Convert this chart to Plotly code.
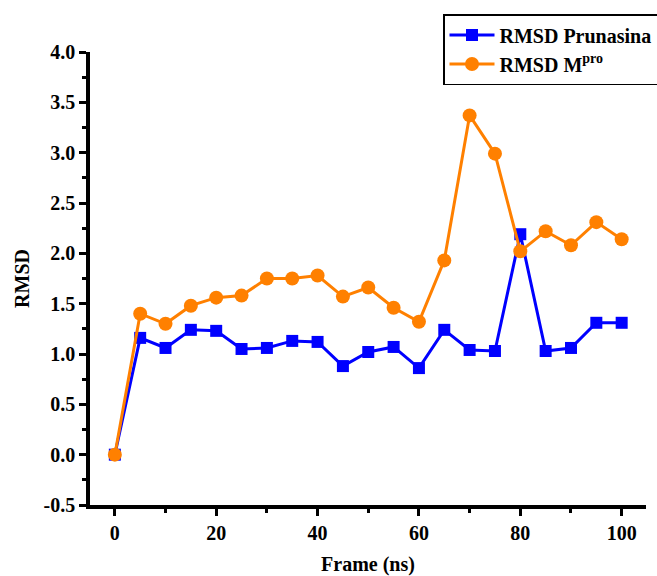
import plotly.graph_objects as go

frames = [0, 5, 10, 15, 20, 25, 30, 35, 40, 45, 50, 55, 60, 65, 70, 75, 80, 85, 90, 95, 100]
rmsd_prunasina = [0.0, 1.16, 1.06, 1.24, 1.23, 1.05, 1.06, 1.13, 1.12, 0.88, 1.02, 1.07, 0.86,
                  1.24, 1.04, 1.03, 2.19, 1.03, 1.06, 1.31, 1.31]
rmsd_mpro = [0.0, 1.40, 1.30, 1.48, 1.56, 1.58, 1.75, 1.75, 1.78, 1.57, 1.66, 1.46, 1.32,
             1.93, 3.37, 2.99, 2.02, 2.22, 2.08, 2.31, 2.14]
x_ticks = [0, 20, 40, 60, 80, 100]
x_minor = [10, 30, 50, 70, 90]
y_ticks = [-0.5, 0.0, 0.5, 1.0, 1.5, 2.0, 2.5, 3.0, 3.5, 4.0]
y_minor = [-0.25, 0.25, 0.75, 1.25, 1.75, 2.25, 2.75, 3.25, 3.75]

FONT = "Liberation Serif"

fig = go.Figure()
fig.add_trace(go.Scatter(
    x=frames, y=rmsd_prunasina, mode="lines+markers", name="<b>RMSD Prunasina</b>",
    line=dict(color="#0000FF", width=3),
    marker=dict(symbol="square", size=12, color="#0000FF"),
))
fig.add_trace(go.Scatter(
    x=frames, y=rmsd_mpro, mode="lines+markers", name="<b>RMSD M<sup>pro</sup></b>",
    line=dict(color="#FF8000", width=3),
    marker=dict(symbol="circle", size=14, color="#FF8000"),
))

fig.update_layout(
    width=657, height=576,
    margin=dict(l=90, r=11, t=52, b=71, autoexpand=False),
    plot_bgcolor="white", paper_bgcolor="white",
    font=dict(family=FONT, size=19, color="black"),
    showlegend=True,
    legend=dict(
        xref="container", yref="container",
        x=443 / 657, xanchor="left", y=1 - 14 / 576, yanchor="top",
        bgcolor="white", bordercolor="black", borderwidth=1.5,
        font=dict(family=FONT, size=20, color="black"),
        itemwidth=45, tracegroupgap=0,
    ),
    xaxis=dict(
        range=[-4.9, 104.8], tickmode="array", tickvals=x_ticks,
        ticktext=["<b>%d</b>" % v for v in x_ticks],
        showline=True, linecolor="black", linewidth=3.5,
        ticks="outside", ticklen=7, tickwidth=3, tickcolor="black",
        minor=dict(tickvals=x_minor, ticks="outside", ticklen=4, tickwidth=3, tickcolor="black"),
        showgrid=False, zeroline=False, automargin=False,
        title=dict(text="<b>Frame (ns)</b>", font=dict(family=FONT, size=20), standoff=20),
        tickfont=dict(family=FONT, size=20),
    ),
    yaxis=dict(
        range=[-0.5, 4.0], tickmode="array", tickvals=y_ticks,
        ticktext=["<b>%.1f</b>" % v for v in y_ticks],
        showline=True, linecolor="black", linewidth=3.5,
        ticks="outside", ticklen=7, tickwidth=3, tickcolor="black",
        minor=dict(tickvals=y_minor, ticks="outside", ticklen=4, tickwidth=3, tickcolor="black"),
        showgrid=False, zeroline=False, automargin=False,
        title=dict(text="<b>RMSD</b>", font=dict(family=FONT, size=20), standoff=10),
        tickfont=dict(family=FONT, size=20),
    ),
)

fig.write_html("out.html")
